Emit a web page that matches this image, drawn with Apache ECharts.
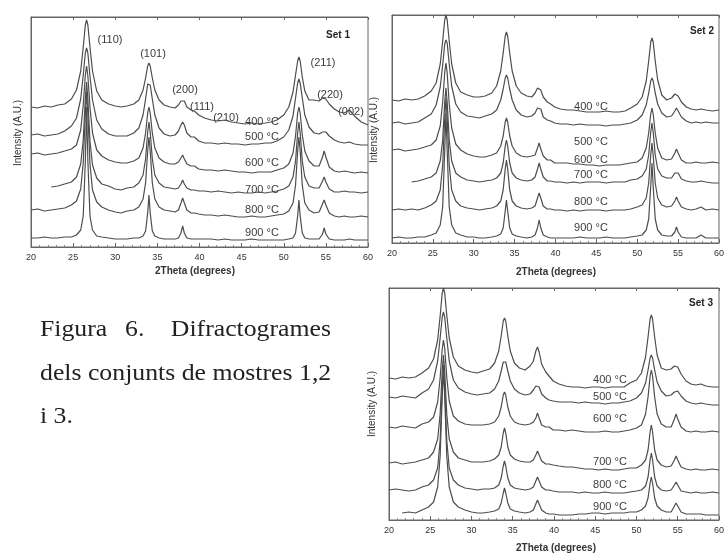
<!DOCTYPE html>
<html>
<head>
<meta charset="utf-8">
<script src="https://cdn.jsdelivr.net/npm/echarts@6/dist/echarts.min.js"></script>
<style>
html, body { margin: 0; padding: 0; background: #fff; }
#chart { width: 727px; height: 557px; }
</style>
</head>
<body>
<div id="chart"></div>
<script>
// Diffraction angle grid (2θ, degrees), shared by every pattern
const twoTheta = [20.0, 20.8, 21.6, 22.4, 23.2, 24.0, 24.8, 25.4, 25.9, 26.2, 26.45, 26.6, 26.75, 27.0, 27.3, 27.8, 28.4, 29.2, 30.0, 30.7, 31.4, 32.2, 32.8, 33.3, 33.6, 33.85, 34.0, 34.15, 34.4, 34.7, 35.2, 35.8, 36.5, 37.1, 37.5, 37.8, 38.0, 38.2, 38.5, 39.0, 39.4, 39.9, 40.6, 41.4, 42.2, 43.0, 43.8, 44.6, 45.4, 46.2, 47.0, 47.8, 48.5, 49.2, 50.0, 50.6, 51.1, 51.4, 51.65, 51.8, 51.95, 52.2, 52.5, 53.0, 53.6, 54.2, 54.6, 54.8, 55.0, 55.4, 56.0, 56.6, 57.2, 57.8, 58.4, 59.2, 60.0];

// Set 1 intensities (arbitrary units, stacked by calcination temperature)
const set1_400 = [140,139,141,140,142, 143,148,157,176,200,222,227,222,200,176,156,147,143, 141,140, 141,143,147,157,169,181,184,181,169,157,147,142,140, 139,142,146,148,146,140,137,136,132,129, 127,126,127,125,124,123,124,123,124,125, 127,132,140,155,172,186,190,186,170,156,147, 147,146,149,150,148,143,138,135, 134,137,131,125,122];
const set1_500 = [112,113,111,112,113, 116,121,129,148,172,194,199,194,171,147,127,118,113, 111,111, 111,114,119,132,148,163,165,162,148,132,119,113,111, 112,116,122,125,122,114,110,110,106,104, 104,103,104,103,103,102,103,103,104,104, 106,110,117,131,149,164,168,164,149,132,120, 114,113,115,116,115,111,107,105, 104,105,103,102,102];
const set1_600 = [93,94,92,93,94, 96,98,102,117,142,172,181,171,140,114,97,91,87, 85,84, 84,86,89,99,114,134,140,134,114,99,89,85,83, 83,85,89,92,88,83,81,81,78,77, 77,76,77,76,75,75,74,75,75,75, 77,79,83,94,111,134,140,134,112,96,86, 81,81,90,96,90,80,76,75, 76,75,74,75,74];
const set1_700 = [null,null,null,60,61, 63,65,70,83,107,149,165,148,106,82,69,63,61, 58,57, 59,60,64,72,88,115,125,115,88,72,64,60,59, 58,59,63,67,63,59,57,57,56,56, 55,56,55,54,55,54,54,55,54,55, 56,58,61,70,86,114,125,114,86,70,61, 59,59,66,70,65,58,55,55, 56,55,55,54,55];
const set1_800 = [37,38,36,37,38, 39,42,46,58,84,134,155,133,83,57,45,40,37, 35,34, 36,37,40,48,64,96,110,96,64,48,40,37,36, 35,37,44,49,44,37,34,34,33,32, 32,31,32,31,30,30,31,30,30,31, 32,33,36,44,62,96,110,96,62,44,37, 34,35,43,47,42,34,31,30, 31,30,30,31,30];
const set1_900 = [9,9,10,9,9, 10,10,12,17,31,86,140,86,31,17,11,10,9, 8,8, 8,9,9,11,16,34,52,34,16,11,9,8,8, 8,9,14,21,14,9,8,8,8,8, 8,7,8,7,7,7,8,7,7,7, 7,7,8,9,14,31,47,31,14,9,8, 8,8,13,19,13,8,7,7, 7,8,7,7,7];

// Set 2 intensities
const set2_400 = [143,142,144,143,144, 147,152,160,179,202,223,228,223,202,179,160,151,148, 146,146, 147,150,157,172,190,207,211,207,190,172,157,150,147, 146,150,155,156,153,146,141,139,136,134, 133,133,132,131,131,131,132,131,131,132, 135,139,146,162,182,201,205,201,182,163,148, 143,145,149,150,147,141,136,134, 133,134,133,132,133];
const set2_500 = [120,121,119,120,121, 125,129,138,156,178,199,203,200,179,157,139,131,127, 126,125, 127,129,133,143,154,165,168,165,154,143,133,128,126, 127,130,135,136,134,126,123,122,120,119, 119,118,119,118,118,118,117,118,118,119, 120,123,128,138,150,162,165,162,150,139,130, 126,127,132,135,132,126,122,120, 121,120,121,120,120];
const set2_600 = [93,94,92,93,94, 96,98,103,117,141,171,180,170,139,115,99,93,89, 87,86, 86,88,90,97,107,121,125,121,107,97,90,87,86, 87,88,95,100,94,87,83,83,80,80, 80,79,79,78,78,77,78,78,78,79, 80,81,85,95,110,129,135,129,110,95,85, 83,84,90,94,90,83,80,80, 81,80,80,81,80];
const set2_700 = [null,null,null,61,62, 64,66,70,82,103,141,155,141,103,82,70,66,63, 62,61, 62,63,65,70,80,97,103,97,80,70,65,63,62, 63,66,74,80,74,66,62,62,61,61, 60,61,60,61,61,61,60,61,61,61, 63,64,67,74,88,111,120,111,88,74,67, 65,65,70,72,70,64,62,61, 61,62,61,60,60];
const set2_800 = [33,34,33,34,33, 35,38,42,53,78,125,145,125,78,53,42,37,35, 34,33, 34,35,37,42,53,74,83,74,53,42,37,35,34, 35,37,45,50,45,37,34,34,33,33, 32,33,32,33,33,33,32,33,33,33, 34,36,38,45,60,88,100,88,60,45,38, 36,37,42,46,42,36,34,33, 34,36,33,34,33];
const set2_900 = [5,6,5,5,6, 6,8,10,18,36,93,130,93,36,18,10,8,6, 6,5, 5,6,7,9,15,32,43,32,15,9,7,6,5, 6,8,15,23,15,8,6,5,5,5, 5,5,6,5,5,5,6,5,5,5, 6,7,8,13,24,57,80,57,24,13,8, 7,7,11,16,11,6,5,5, 5,8,5,5,5];

// Set 3 intensities
const set3_400 = [142,141,143,142,143, 147,152,161,180,204,227,232,227,205,182,163,154,150, 148,147, 149,151,157,169,184,199,202,199,184,169,157,152,150, 154,159,169,173,168,156,148,144,139,136, 134,133,133,132,133,133,132,133,133,133, 137,140,147,163,183,201,205,201,183,165,152, 150,151,154,155,153,146,139,136, 135,136,134,133,133];
const set3_500 = [123,122,124,123,122, 127,131,140,159,182,203,208,203,182,159,140,132,128, 126,125, 126,127,131,139,149,158,160,158,149,139,131,127,125, 126,130,134,135,133,126,122,120,119,118, 118,118,117,118,117,117,116,117,117,118, 119,122,127,137,150,162,165,162,150,138,129, 124,125,128,130,129,124,119,117, 116,117,116,115,115];
const set3_600 = [93,92,94,93,92, 96,98,103,118,142,171,180,172,143,119,104,99,96, 95,95, 95,96,98,104,113,125,128,125,113,104,98,96,95, 96,98,102,107,102,95,93,93,90,90, 89,90,89,88,88,88,89,88,88,89, 90,92,95,106,123,144,150,144,123,106,96, 93,93,101,106,101,93,89,88, 89,88,88,89,88];
const set3_700 = [57,58,56,57,58, 60,62,68,81,106,149,165,149,106,81,68,62,60, 58,58, 58,59,61,65,73,87,92,87,73,65,61,59,58, 58,60,65,69,65,59,56,56,55,54, 53,53,52,51,51,50,51,50,50,51, 52,52,55,60,70,88,95,88,70,60,55, 53,54,60,64,60,53,51,50, 51,50,50,51,50];
const set3_800 = [30,31,30,29,30, 33,35,40,52,80,132,155,132,80,52,40,35,32, 31,30, 31,31,32,35,42,54,59,54,42,35,32,31,30, 31,33,39,43,39,33,30,30,29,28, 28,28,27,28,27,27,28,27,27,27, 28,29,30,34,43,60,67,60,43,34,30, 29,30,35,38,35,29,28,27, 28,27,27,28,27];
const set3_900 = [null,null,7,8,7, 10,13,18,33,64,124,150,124,64,33,18,13,10, 8,7, 7,8,9,11,17,27,32,27,17,11,9,8,7, 8,10,16,20,16,10,7,6,6,5, 5,5,6,6,7,7,6,7,7,7, 8,8,10,14,22,37,43,37,22,14,10, 8,8,14,17,14,8,6,6, 6,6,5,5,5];

// Text content
const temperatures = ['400 °C', '500 °C', '600 °C', '700 °C', '800 °C', '900 °C'];
const reflections = ['(110)', '(101)', '(200)', '(111)', '(210)', '(211)', '(220)', '(002)'];
const setTitles = ['Set 1', 'Set 2', 'Set 3'];
const xTitle = '2Theta (degrees)';
const yTitle = 'Intensity (A.U.)';
const captionWords = ['Figura', '6.', 'Difractogrames'];
const captionLines = ['dels conjunts de mostres 1,2', 'i 3.'];

// Layout
const SANS = 'Liberation Sans, Arial, sans-serif';
const SERIF = 'Liberation Serif, Times New Roman, serif';
const panels = [
  { grid: { left: 31, top: 17, width: 337, height: 230 }, yMax: 230,
    traces: [set1_400, set1_500, set1_600, set1_700, set1_800, set1_900],
    tempX: 262, tempY: [122, 137, 163, 190, 210, 233],
    title: [338, 35], xTitlePos: [195, 271], yTitlePos: [18, 133] },
  { grid: { left: 392, top: 15, width: 335, height: 228 }, yMax: 228,
    traces: [set2_400, set2_500, set2_600, set2_700, set2_800, set2_900],
    tempX: 591, tempY: [107, 142, 160, 175, 202, 228],
    title: [702, 31], xTitlePos: [556, 272], yTitlePos: [374, 130] },
  { grid: { left: 389, top: 288, width: 338, height: 232 }, yMax: 232,
    traces: [set3_400, set3_500, set3_600, set3_700, set3_800, set3_900],
    tempX: 610, tempY: [380, 397, 419, 462, 485, 507],
    title: [701, 303], xTitlePos: [556, 548], yTitlePos: [372, 404] }
];
const reflectionPos = [[110, 40], [153, 54], [185, 90], [202, 107], [226, 118], [323, 63], [330, 95], [351, 112]];

const LINE = '#4d4d4d';
const AXIS = '#666';

const grids = [], xAxes = [], yAxes = [], series = [], graphics = [];

function label(text, x, y, opts) {
  return Object.assign({
    type: 'text', x: x, y: y, silent: true,
    style: Object.assign({ text: text, fontFamily: SANS, fontSize: 11, fill: '#3c3c3c',
      align: 'center', verticalAlign: 'middle' }, (opts && opts.style) || {})
  }, (opts && opts.el) || {});
}

panels.forEach(function (p, i) {
  grids.push(Object.assign({ show: true, borderColor: AXIS, borderWidth: 1, backgroundColor: 'transparent' }, p.grid));
  xAxes.push({
    type: 'value', gridIndex: i, position: 'bottom', min: 20, max: 60, interval: 5,
    axisLine: { show: true, onZero: false, lineStyle: { color: AXIS, width: 1 } },
    axisTick: { show: true, inside: true, length: 4, lineStyle: { color: AXIS } },
    minorTick: { show: true, splitNumber: 5, length: 2, lineStyle: { color: '#888' } },
    axisLabel: { fontSize: 9, color: '#333', margin: 6, fontFamily: SANS },
    splitLine: { show: false }, minorSplitLine: { show: false }
  });
  xAxes.push({
    type: 'value', gridIndex: i, position: 'top', min: 20, max: 60, interval: 5,
    axisLine: { show: true, onZero: false, lineStyle: { color: AXIS, width: 1 } },
    axisTick: { show: true, inside: true, length: 3, lineStyle: { color: AXIS } },
    axisLabel: { show: false }, splitLine: { show: false }
  });
  yAxes.push({
    type: 'value', gridIndex: i, min: 0, max: p.yMax,
    axisLine: { show: true, onZero: false, lineStyle: { color: AXIS } },
    axisTick: { show: false }, axisLabel: { show: false }, splitLine: { show: false }
  });
  p.traces.forEach(function (vals) {
    series.push({
      type: 'line', xAxisIndex: i * 2, yAxisIndex: i, showSymbol: false, silent: true,
      data: twoTheta.map(function (t, k) { return [t, vals[k]]; }),
      lineStyle: { color: LINE, width: 1.2 }
    });
  });
  temperatures.forEach(function (t, k) { graphics.push(label(t, p.tempX, p.tempY[k])); });
  graphics.push(label(setTitles[i], p.title[0], p.title[1], { style: { fontWeight: 'bold', fontSize: 10, fill: '#222' } }));
  graphics.push(label(xTitle, p.xTitlePos[0], p.xTitlePos[1], { style: { fontWeight: 'bold', fontSize: 10, fill: '#333' } }));
  graphics.push(label(yTitle, p.yTitlePos[0], p.yTitlePos[1], { style: { fontSize: 10, fill: '#333' }, el: { rotation: Math.PI / 2 } }));
});

reflections.forEach(function (r, k) { graphics.push(label(r, reflectionPos[k][0], reflectionPos[k][1])); });

// Figure caption (serif, slightly wide set, justified first line)
const capStyle = { fontFamily: SERIF, fontSize: 23, fill: '#222', verticalAlign: 'middle' };
const capScale = { scaleX: 1.12 };
graphics.push(label(captionWords[0], 40, 330, { style: Object.assign({}, capStyle, { align: 'left' }), el: capScale }));
graphics.push(label(captionWords[1], 125, 330, { style: Object.assign({}, capStyle, { align: 'left' }), el: capScale }));
graphics.push(label(captionWords[2], 331, 330, { style: Object.assign({}, capStyle, { align: 'right' }), el: capScale }));
graphics.push(label(captionLines[0], 40, 374, { style: Object.assign({}, capStyle, { align: 'left' }), el: capScale }));
graphics.push(label(captionLines[1], 40, 417, { style: Object.assign({}, capStyle, { align: 'left' }), el: capScale }));

const chart = echarts.init(document.getElementById('chart'), null, { renderer: 'canvas' });
chart.setOption({
  animation: false,
  backgroundColor: '#ffffff',
  grid: grids,
  xAxis: xAxes,
  yAxis: yAxes,
  series: series,
  graphic: graphics
});
</script>
</body>
</html>
